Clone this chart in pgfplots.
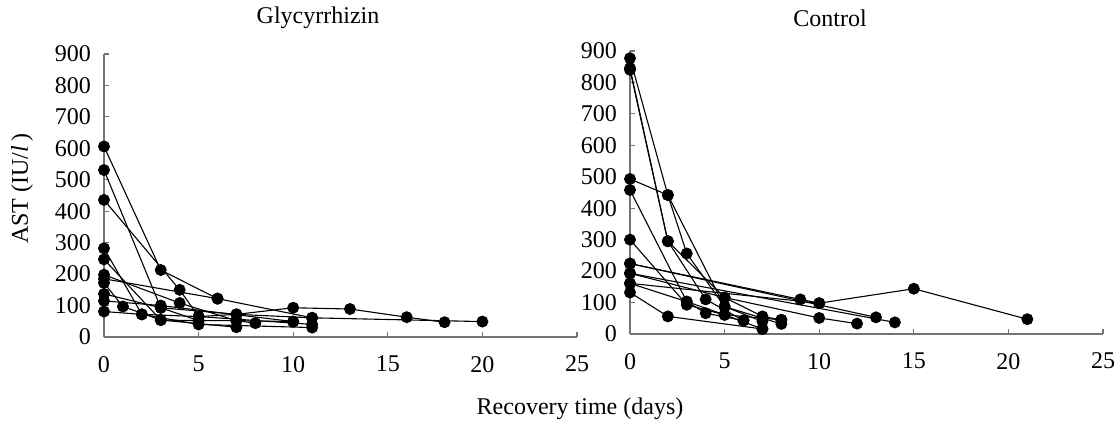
\documentclass[border=0pt]{standalone}
\usepackage{fontspec}
\setmainfont{Liberation Serif}
\usepackage{pgfplots}
\pgfplotsset{compat=1.18}

\newcommand{\figfont}{\fontsize{12bp}{14bp}\selectfont}

\pgfplotsset{
  panel/.style={
    scale only axis,
    width=236.5bp, height=141.5bp,
    anchor=south west,
    xmin=0, xmax=25, ymin=0, ymax=900,
    enlargelimits=false,
    axis lines=left,
    axis line style={-, draw=black!55, line width=0.6bp},
    xtick={0,5,...,25}, ytick={0,100,...,900},
    tick align=inside,
    major tick length=2.5bp,
    tick style={draw=black!55, line width=0.6bp},
    /pgf/number format/assume math mode=true,
    ticklabel style={font=\figfont},
    xticklabel style={yshift=-6bp},
    yticklabel style={xshift=-3bp},
    clip=false,
  },
  pt/.style={black, line width=0.55bp, mark=*, mark size=2.7bp,
    mark options={solid, fill=black}},
}

\begin{document}
\begin{tikzpicture}
\useasboundingbox (0,0) rectangle (557.5bp,211.5bp);

% Glycyrrhizin
\begin{axis}[panel, at={(52bp,43bp)}]
\addplot[pt] coordinates {(0,606) (3,213) (6,122) (11,61) (20,49)};
\addplot[pt] coordinates {(0,531) (3,93) (5,52) (7,52) (10,49)};
\addplot[pt] coordinates {(0,436) (4,150) (5,65) (7,72) (10,93) (13,89) (16,63) (18,47)};
\addplot[pt] coordinates {(0,282) (2,72) (5,40) (11,30)};
\addplot[pt] coordinates {(0,247) (3,54) (7,31)};
\addplot[pt] coordinates {(0,198) (4,108) (7,52) (8,44)};
\addplot[pt] coordinates {(0,185) (6,122)};
\addplot[pt] coordinates {(0,172) (1,97) (3,54) (5,52)};
\addplot[pt] coordinates {(0,137) (3,93) (7,72) (11,61)};
\addplot[pt] coordinates {(0,115) (3,100) (10,49)};
\addplot[pt] coordinates {(0,81) (2,72) (5,65) (11,40)};
\end{axis}

% Control
\begin{axis}[panel, at={(315bp,44.5bp)}]
\addplot[pt] coordinates {(0,877) (2,442) (3,256) (5,87) (8,32)};
\addplot[pt] coordinates {(0,840) (2,295) (4,110) (6,43)};
\addplot[pt] coordinates {(0,846) (2,295) (5,116) (7,56) (8,45)};
\addplot[pt] coordinates {(0,493) (2,442) (5,87) (7,40)};
\addplot[pt] coordinates {(0,458) (3,103) (4,66) (6,43)};
\addplot[pt] coordinates {(0,300) (3,93) (5,61) (7,16)};
\addplot[pt] coordinates {(0,224) (9,110) (10,98) (15,144) (21,47)};
\addplot[pt] coordinates {(0,224) (13,53)};
\addplot[pt] coordinates {(0,193) (14,37)};
\addplot[pt] coordinates {(0,193) (5,116) (10,51) (12,33)};
\addplot[pt] coordinates {(0,161) (3,103) (5,61) (8,45)};
\addplot[pt] coordinates {(0,161) (10,98)};
\addplot[pt] coordinates {(0,132) (2,56) (7,16)};
\end{axis}

\node[font=\figfont] at (159bp,202.5bp) {Glycyrrhizin};
\node[font=\figfont] at (415bp,202.5bp) {Control};
\node[font=\figfont, rotate=90] at (11bp,117bp) {AST (IU/\textit{l}\,)};
\node[font=\figfont] at (290bp,7bp) {Recovery time (days)};
\end{tikzpicture}
\end{document}
